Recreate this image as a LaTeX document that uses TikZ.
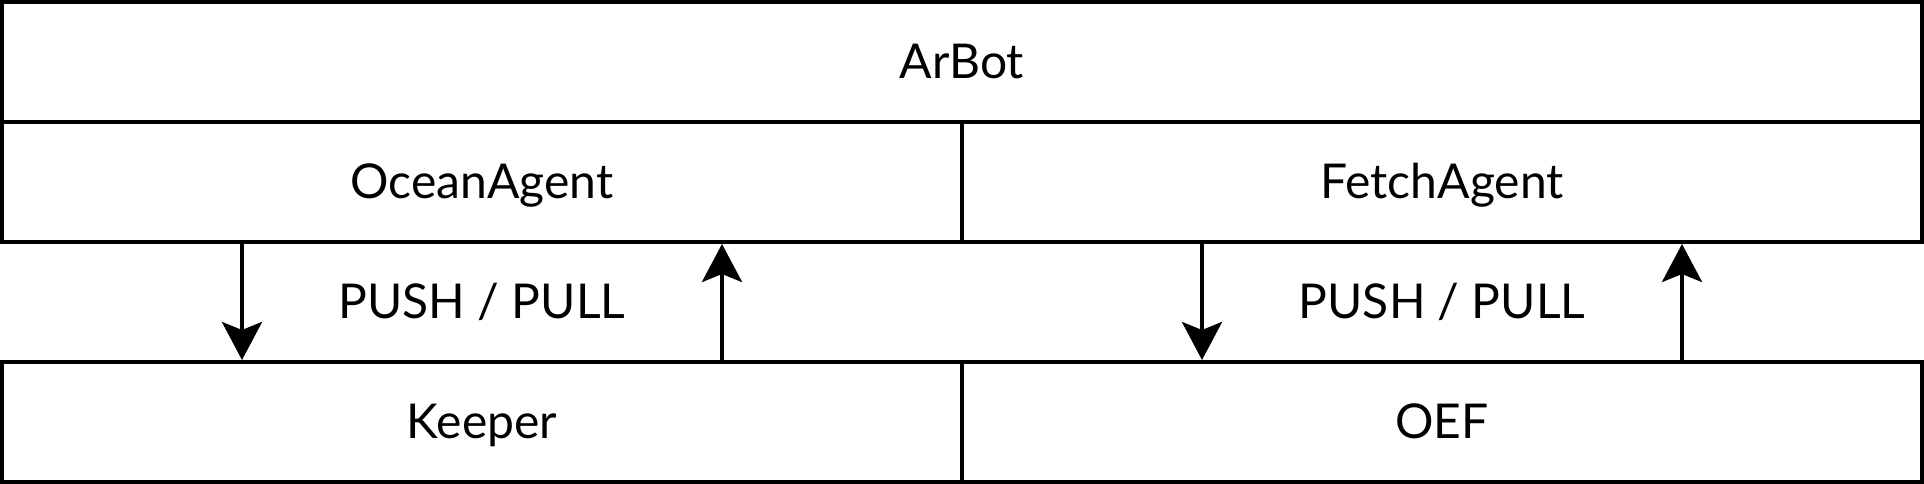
\documentclass[tikz,border=0pt]{standalone}
\usepackage{fontspec}
\setmainfont{Lato}
\usepackage{tikz}
\usetikzlibrary{arrows.meta,calc}
\tikzstyle{layer}=[rectangle,draw=black,line width=4pt,outer sep=0pt,inner sep=0pt,minimum height=120pt,text height=33pt,text depth=0pt,font=\fontsize{48}{52}\selectfont]
\tikzstyle{label}=[inner sep=0pt,text height=33pt,text depth=0pt,font=\fontsize{48}{52}\selectfont]
\tikzstyle{flow}=[line width=4pt,-{Stealth[length=38pt,width=40pt,inset=8pt]},shorten >=2pt]

\begin{document}
\begin{tikzpicture}[x=1pt,y=-1pt]
        \useasboundingbox (0,0) rectangle (1924,484);
        \node at ( 962, 62) [layer,minimum width=1920pt] (arbot) {ArBot};
        \node at ( 482,182) [layer,minimum width=960pt] (ocean) {OceanAgent};
        \node at (1442,182) [layer,minimum width=960pt] (fetch) {FetchAgent};
        \node at ( 482,422) [layer,minimum width=960pt] (keeper) {Keeper};
        \node at (1442,422) [layer,minimum width=960pt] (oef) {OEF};
        \node at ( 482,302) [label] (oceanlink) {PUSH / PULL};
        \node at (1442,302) [label] (fetchlink) {PUSH / PULL};
        \draw [flow] ($(ocean.south west)!0.25!(ocean.south east)$) to ($(keeper.north west)!0.25!(keeper.north east)$);
        \draw [flow] ($(keeper.north west)!0.75!(keeper.north east)$) to ($(ocean.south west)!0.75!(ocean.south east)$);
        \draw [flow] ($(fetch.south west)!0.25!(fetch.south east)$) to ($(oef.north west)!0.25!(oef.north east)$);
        \draw [flow] ($(oef.north west)!0.75!(oef.north east)$) to ($(fetch.south west)!0.75!(fetch.south east)$);
      \end{tikzpicture}
\end{document}
